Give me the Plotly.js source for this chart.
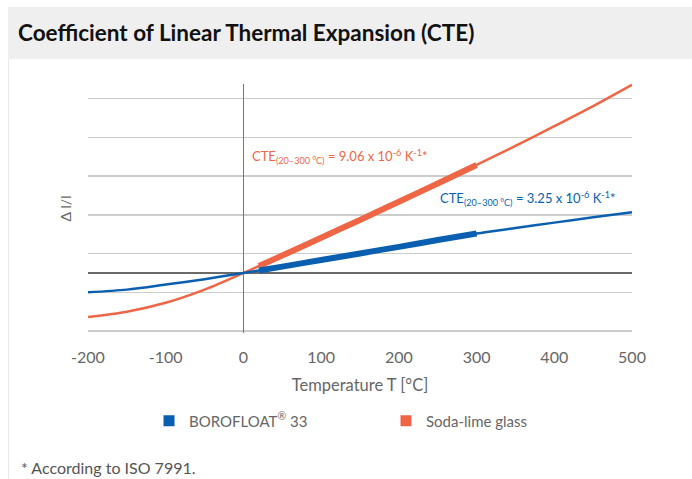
<!DOCTYPE html>
<html>
<head>
<meta charset="utf-8">
<script src="https://cdn.plot.ly/plotly-3.0.1.min.js"></script>
<style>html,body{margin:0;padding:0;background:#fff;}#chart{width:692px;height:479px;}</style>
</head>
<body>
<div id="chart"></div>
<script>
// Temperature in °C, Δl/l in units of 10^-3
var temps = [-200, -150, -100, -50, 0, 20, 50, 100, 150, 200, 250, 300, 350, 400, 450, 500];
var borofloat = [-0.50, -0.43, -0.30, -0.16, 0, 0.065, 0.165, 0.335, 0.505, 0.675, 0.85, 1.02, 1.16, 1.30, 1.44, 1.57];
var sodaLime = [-1.14, -1.00, -0.77, -0.43, 0, 0.18, 0.45, 0.91, 1.37, 1.84, 2.31, 2.79, 3.28, 3.79, 4.31, 4.86];
var cteRange = [20, 300];
var seriesNames = ['BOROFLOAT<sup>®</sup> 33', 'Soda-lime glass'];
var cteLabels = [
  'CTE<sub>(20–300 °C)</sub> = 3.25 x 10<sup>-6</sup> K<sup>-1</sup>*',
  'CTE<sub>(20–300 °C)</sub> = 9.06 x 10<sup>-6</sup> K<sup>-1</sup>*'
];
var xTicks = [-200, -100, 0, 100, 200, 300, 400, 500];
var yGrid = [-1.5, -0.5, 0.5, 1.5, 2.5, 3.5, 4.5];

var blue = '#0a5fb0';
var orange = '#ee6646';
var font = 'Lato, "Open Sans", sans-serif';

function inRange(xs, ys) {
  var ox = [], oy = [];
  for (var i = 0; i < xs.length; i++) {
    if (xs[i] >= cteRange[0] && xs[i] <= cteRange[1]) { ox.push(xs[i]); oy.push(ys[i]); }
  }
  return {x: ox, y: oy};
}
var bThick = inRange(temps, borofloat);
var sThick = inRange(temps, sodaLime);

var traces = [
  {x: temps, y: sodaLime, mode: 'lines', line: {color: orange, width: 2.5, shape: 'spline', smoothing: 0.8}, showlegend: false, hoverinfo: 'skip'},
  {x: temps, y: borofloat, mode: 'lines', line: {color: blue, width: 2.5, shape: 'spline', smoothing: 0.8}, showlegend: false, hoverinfo: 'skip'},
  {x: sThick.x, y: sThick.y, mode: 'lines', line: {color: orange, width: 6, shape: 'spline', smoothing: 0.8}, showlegend: false, hoverinfo: 'skip'},
  {x: bThick.x, y: bThick.y, mode: 'lines', line: {color: blue, width: 6, shape: 'spline', smoothing: 0.8}, showlegend: false, hoverinfo: 'skip'},
  {x: [null], y: [null], mode: 'markers', name: seriesNames[0], marker: {symbol: 'square', size: 11, color: blue}},
  {x: [null], y: [null], mode: 'markers', name: seriesNames[1], marker: {symbol: 'square', size: 11, color: orange}}
];

var L = 88, R = 60, T = 84, B = 146, W = 692, H = 479;
var pw = W - L - R, ph = H - T - B;
function px(x) { return (x - L) / pw; }
function py(y) { return (H - B - y) / ph; }

var layout = {
  width: W, height: H,
  margin: {l: L, r: R, t: T, b: B},
  paper_bgcolor: '#ffffff', plot_bgcolor: '#ffffff',
  font: {family: font, color: '#666666', size: 15},
  title: {text: 'Coefficient of Linear Thermal Expansion (CTE)', font: {family: font, size: 22.5, color: '#111111', weight: 'bold'},
          xref: 'container', yref: 'container', x: 18 / W, xanchor: 'left', y: 1 - 33 / H, yanchor: 'middle'},
  xaxis: {range: [-200, 500], tickvals: xTicks, ticktext: xTicks.map(String), showgrid: false,
          zeroline: true, zerolinecolor: '#777777', zerolinewidth: 1.2, showline: false,
          ticks: 'outside', ticklen: 10, tickcolor: 'rgba(0,0,0,0)', tickfont: {size: 16, color: '#666666'},
          title: {text: 'Temperature T [°C]', font: {size: 16.5, color: '#666666'}, standoff: 14}, fixedrange: true},
  yaxis: {range: [-1.55, 4.88], tickvals: yGrid, showticklabels: false, showgrid: true, gridcolor: '#cccccc', gridwidth: 1.5,
          zeroline: true, zerolinecolor: '#6a6a6a', zerolinewidth: 1.2, showline: false, ticks: '',
          title: {text: 'Δ l/l', font: {size: 14, color: '#666666'}, standoff: 12}, fixedrange: true},
  legend: {orientation: 'h', x: px(149), xanchor: 'left', y: py(421), yanchor: 'middle', entrywidth: 192, entrywidthmode: 'pixels',
           font: {size: 15, color: '#666666'}, bgcolor: 'rgba(0,0,0,0)', itemclick: false},
  shapes: [
    {type: 'rect', xref: 'paper', yref: 'paper', x0: px(8), x1: px(692), y0: py(59), y1: py(7), fillcolor: '#efefef', line: {width: 0}, layer: 'below'},
    {type: 'line', xref: 'paper', yref: 'paper', x0: px(8.5), x1: px(8.5), y0: py(59), y1: py(479), line: {color: '#e8e8e8', width: 1}}
  ],
  annotations: [
    {xref: 'x', yref: 'y', x: 8, y: 3.02, xanchor: 'left', yanchor: 'middle', showarrow: false, text: cteLabels[1], font: {size: 13, color: orange}},
    {xref: 'x', yref: 'y', x: 251, y: 1.93, xanchor: 'left', yanchor: 'middle', showarrow: false, text: cteLabels[0], font: {size: 13, color: blue}},
    {xref: 'paper', yref: 'paper', x: px(19), y: py(467), xanchor: 'left', yanchor: 'middle', showarrow: false, text: '* According to ISO 7991.', font: {size: 16, color: '#555555'}}
  ]
};

Plotly.newPlot('chart', traces, layout, {displayModeBar: false, staticPlot: true});
</script>
</body>
</html>
